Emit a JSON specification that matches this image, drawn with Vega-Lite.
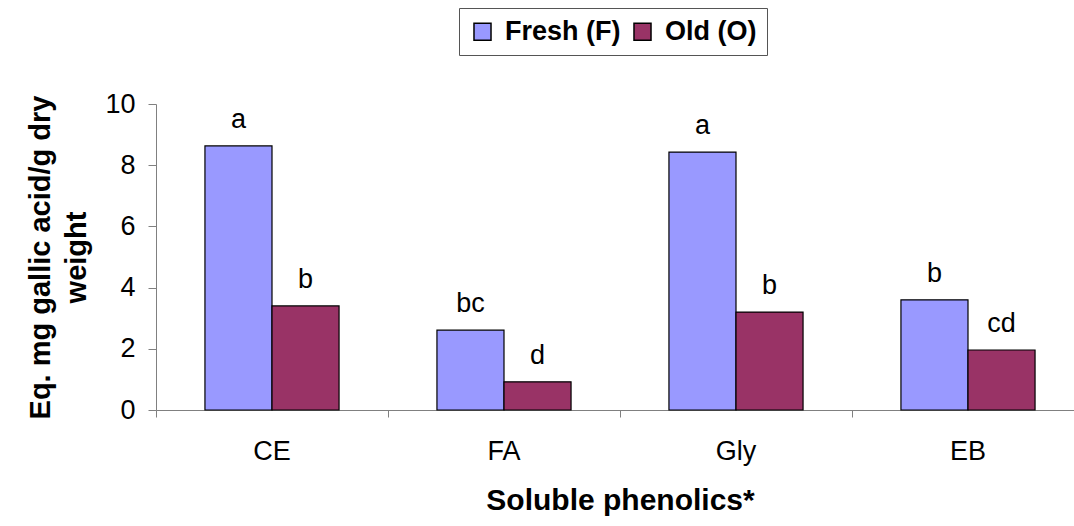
{
  "$schema": "https://vega.github.io/schema/vega-lite/v6.json",
  "width": 918,
  "height": 306,
  "autosize": {"type": "none"},
  "padding": {"left": 156, "top": 104, "right": 0, "bottom": 116},
  "background": "white",
  "config": {
    "view": {"stroke": null},
    "font": "Liberation Sans",
    "axis": {"grid": false, "domainColor": "#808080", "tickColor": "#808080", "labelColor": "black", "titleColor": "black", "labelFont": "Liberation Sans", "titleFont": "Liberation Sans"}
  },
  "data": {
    "values": [
      {"cat": "CE", "group": "Fresh (F)", "value": 8.63, "sig": "a"},
      {"cat": "CE", "group": "Old (O)", "value": 3.40, "sig": "b"},
      {"cat": "FA", "group": "Fresh (F)", "value": 2.61, "sig": "bc"},
      {"cat": "FA", "group": "Old (O)", "value": 0.92, "sig": "d"},
      {"cat": "Gly", "group": "Fresh (F)", "value": 8.43, "sig": "a"},
      {"cat": "Gly", "group": "Old (O)", "value": 3.20, "sig": "b"},
      {"cat": "EB", "group": "Fresh (F)", "value": 3.60, "sig": "b"},
      {"cat": "EB", "group": "Old (O)", "value": 1.96, "sig": "cd"}
    ]
  },
  "encoding": {
    "x": {
      "field": "cat", "type": "nominal", "sort": ["CE", "FA", "Gly", "EB"],
      "scale": {"paddingInner": 0, "paddingOuter": 0, "range": [0, 928]},
      "axis": {"title": "Soluble phenolics*", "titleFontSize": 30, "titleFontWeight": "bold", "titlePadding": 21, "labelFontSize": 27, "labelAngle": 0, "labelPadding": 21, "tickSize": 7, "bandPosition": 0, "labelBound": false}
    },
    "xOffset": {"field": "group", "type": "nominal", "sort": ["Fresh (F)", "Old (O)"], "scale": {"paddingInner": 0, "paddingOuter": 0.73}},
    "y": {
      "field": "value", "type": "quantitative",
      "scale": {"domain": [0, 10]},
      "axis": {"title": ["Eq. mg gallic acid/g dry", "weight"], "titleFontSize": 29, "titleFontWeight": "bold", "titleLineHeight": 36, "titlePadding": 13, "labelFontSize": 27, "values": [0, 2, 4, 6, 8, 10], "tickSize": 8, "labelPadding": 13}
    }
  },
  "layer": [
    {
      "mark": {"type": "bar", "stroke": "black", "strokeWidth": 1.2},
      "encoding": {
        "color": {
          "field": "group", "type": "nominal",
          "scale": {"domain": ["Fresh (F)", "Old (O)"], "range": ["#9999FF", "#993366"]},
          "legend": {
            "title": null, "orient": "none", "legendX": 303, "legendY": -96, "direction": "horizontal",
            "strokeColor": "#555555", "fillColor": "white", "padding": 10,
            "labelFontSize": 27, "labelFontWeight": "bold", "labelFont": "Liberation Sans", "labelColor": "black",
            "symbolType": "square", "symbolSize": 290, "symbolStrokeColor": "black", "symbolStrokeWidth": 1.5, "symbolOpacity": 1,
            "columnPadding": 8, "labelOffset": 9
          }
        }
      }
    },
    {
      "mark": {"type": "text", "baseline": "alphabetic", "dy": -18, "fontSize": 27, "font": "Liberation Sans", "color": "black"},
      "encoding": {"text": {"field": "sig"}}
    }
  ]
}
